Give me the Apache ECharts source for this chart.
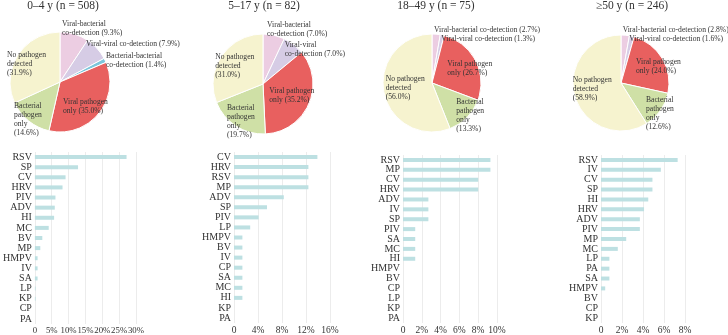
<!DOCTYPE html>
<html>
<head>
<meta charset="utf-8">
<script src="https://cdn.jsdelivr.net/npm/echarts@6/dist/echarts.min.js"></script>
<style>
  html, body { margin: 0; padding: 0; background: #fff; }
  #chart { width: 728px; height: 335px; }
</style>
</head>
<body>
<div id="chart"></div>
<script>
const panelTitles = ['0–4 y (n = 508)', '5–17 y (n = 82)', '18–49 y (n = 75)', '≥50 y (n = 246)'];

// pie slices, clockwise from 12 o'clock
const pieNames = ['VB', 'VV', 'BB', 'VO', 'BO', 'NP'];
const pie1 = [9.3, 7.9, 1.4, 35.0, 14.6, 31.9];
const pie2 = [7.0, 7.0, 0, 35.2, 19.7, 31.0];
const pie3 = [2.7, 1.3, 0, 26.7, 13.3, 56.0];
const pie4 = [2.8, 1.6, 0, 24.0, 12.6, 58.9];

// pathogen detection rates (%)
const cats1 = ['RSV', 'SP', 'CV', 'HRV', 'PIV', 'ADV', 'HI', 'MC', 'BV', 'MP', 'HMPV', 'IV', 'SA', 'LP', 'KP', 'CP', 'PA'];
const vals1 = [27.2, 12.8, 9.1, 8.2, 6.1, 5.9, 5.7, 4.1, 2.2, 1.6, 0.8, 0.8, 0.8, 0.2, 0.2, 0, 0];
const cats2 = ['CV', 'HRV', 'RSV', 'MP', 'ADV', 'SP', 'PIV', 'LP', 'HMPV', 'BV', 'IV', 'CP', 'SA', 'MC', 'HI', 'KP', 'PA'];
const vals2 = [13.9, 12.4, 12.4, 12.4, 8.3, 5.5, 4.1, 2.7, 1.4, 1.4, 1.4, 1.4, 1.4, 1.4, 1.4, 0, 0];
const cats3 = ['RSV', 'MP', 'CV', 'HRV', 'ADV', 'IV', 'SP', 'PIV', 'SA', 'MC', 'HI', 'HMPV', 'BV', 'CP', 'LP', 'KP', 'PA'];
const vals3 = [9.3, 9.3, 8.0, 8.0, 2.7, 2.7, 2.7, 1.3, 1.3, 1.3, 1.3, 0, 0, 0, 0, 0, 0];
const cats4 = ['RSV', 'IV', 'CV', 'SP', 'HI', 'HRV', 'ADV', 'PIV', 'MP', 'MC', 'LP', 'PA', 'SA', 'HMPV', 'BV', 'CP', 'KP'];
const vals4 = [7.3, 5.7, 4.9, 4.9, 4.5, 4.1, 3.7, 3.7, 2.4, 1.6, 0.8, 0.8, 0.8, 0.4, 0, 0, 0];

const axisMax = [30, 16, 10, 8];
const axisStep = [5, 4, 2, 2];

const FONT = 'Liberation Serif';
const sliceColors = { VB: '#eccde2', VV: '#d6cce5', BB: '#7cc6db', VO: '#e8605f', BO: '#cfe0a6', NP: '#f6f3cf' };

// label text (line breaks differ per panel)
const labelTpl = [
  { VB: 'Viral-bacterial\nco-detection ({p})', VV: 'Viral-viral co-detection ({p})', BB: 'Bacterial-bacterial\nco-detection ({p})',
    VO: 'Viral pathogen\nonly ({p})', BO: 'Bacterial\npathogen\nonly\n({p})', NP: 'No pathogen\ndetected\n({p})' },
  { VB: 'Viral-bacterial\nco-detection ({p})', VV: 'Viral-viral\nco-detection ({p})',
    VO: 'Viral pathogen\nonly ({p})', BO: 'Bacterial\npathogen\nonly\n({p})', NP: 'No pathogen\ndetected\n({p})' },
  { VB: 'Viral-bacterial co-detection ({p})', VV: 'Viral-viral co-detection ({p})',
    VO: 'Viral pathogen\nonly ({p})', BO: 'Bacterial\npathogen\nonly\n({p})', NP: 'No pathogen\ndetected\n({p})' },
  { VB: 'Viral-bacterial co-detection ({p})', VV: 'Viral-viral co-detection ({p})',
    VO: 'Viral pathogen\nonly ({p})', BO: 'Bacterial\npathogen\nonly\n({p})', NP: 'No pathogen\ndetected\n({p})' }
];

// layout: pie centres/radii, label offsets from centre, grids
const pieCenters = [[60, 82], [263, 84], [432, 83], [621, 83]];
const pieRadius = [50, 50, 49, 48];
const labelOffsets = [
  { VB: [2, -54], VV: [26, -38], BB: [46, -21.5], VO: [3, 24.5], BO: [-46, 37.5], NP: [-53, -18] },
  { VB: [4, -54.5], VV: [21.7, -34.5], VO: [6.3, 11.5], BO: [-36, 37.7], NP: [-47.7, -18.3] },
  { VB: [2, -53], VV: [9.3, -44], VO: [15.3, -14.3], BO: [24.3, 32], NP: [-46.3, 5.3] },
  { VB: [1.7, -53], VV: [8.3, -43.7], VO: [15, -16.8], BO: [25, 30], NP: [-48.3, 5.7] }
];
const titleX = [63, 264, 436, 632];
const grids = [
  { left: 31, top: 152, width: 105, height: 173 },
  { left: 234, top: 152, width: 96, height: 173 },
  { left: 403, top: 155, width: 94, height: 170 },
  { left: 601, top: 155, width: 84, height: 170 }
];

const pies = [pie1, pie2, pie3, pie4];
const cats = [cats1, cats2, cats3, cats4];
const vals = [vals1, vals2, vals3, vals4];

const chart = echarts.init(document.getElementById('chart'));

const series = [];
const xAxis = [];
const yAxis = [];

pies.forEach((pie, i) => {
  const items = [];
  pie.forEach((v, k) => {
    if (v > 0) {
      const name = pieNames[k];
      items.push({ name: name, value: v, itemStyle: { color: sliceColors[name] } });
    }
  });
  const c = pieCenters[i];
  series.push({
    type: 'pie',
    center: c,
    radius: pieRadius[i],
    startAngle: 90,
    clockwise: true,
    silent: true,
    itemStyle: { borderColor: '#fff', borderWidth: 1 },
    label: {
      position: 'inside',
      fontFamily: FONT,
      fontSize: 7.6,
      lineHeight: 9,
      color: '#333',
      formatter: (p) => labelTpl[i][p.name].replace('{p}', p.value.toFixed(1) + '%')
    },
    labelLine: { show: false },
    labelLayout: (p) => {
      const off = labelOffsets[i][items[p.dataIndex].name];
      return { x: c[0] + off[0], y: c[1] + off[1], align: 'left', verticalAlign: 'middle' };
    },
    data: items
  });

  xAxis.push({
    gridIndex: i,
    type: 'value',
    min: 0,
    max: axisMax[i],
    interval: axisStep[i],
    axisLine: { show: false },
    axisTick: { show: false },
    splitLine: { lineStyle: { color: '#ececec', width: 1 } },
    axisLabel: {
      fontFamily: FONT, fontSize: i === 0 ? 8.8 : 9.5, color: '#333', margin: 2,
      showMinLabel: true, showMaxLabel: true, hideOverlap: false,
      formatter: (v) => v === 0 ? '0' : v + '%'
    }
  });
  yAxis.push({
    gridIndex: i,
    type: 'category',
    inverse: true,
    data: cats[i],
    axisLine: { show: false },
    axisTick: { show: false },
    axisLabel: { fontFamily: FONT, fontSize: 10, color: '#333', margin: 3, interval: 0 }
  });
  series.push({
    type: 'bar',
    xAxisIndex: i,
    yAxisIndex: i,
    barWidth: 4,
    silent: true,
    itemStyle: { color: '#bde0e2' },
    data: vals[i]
  });
});

const option = {
  animation: false,
  backgroundColor: '#fff',
  title: panelTitles.map((t, i) => ({
    text: t,
    left: titleX[i],
    top: 0,
    padding: 0,
    textAlign: 'center',
    textStyle: { fontFamily: FONT, fontSize: 11.5, fontWeight: 'normal', color: '#333' }
  })),
  grid: grids,
  xAxis: xAxis,
  yAxis: yAxis,
  series: series
};

option && chart.setOption(option);
</script>
</body>
</html>
